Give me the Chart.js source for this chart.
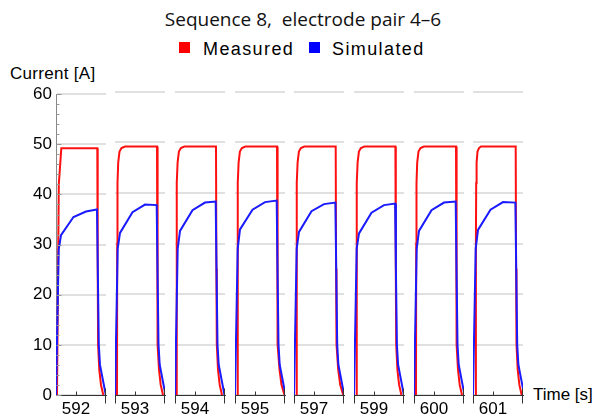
<!DOCTYPE html>
<html>
<head>
<meta charset="utf-8">
<script src="https://cdn.jsdelivr.net/npm/chart.js@4.4.1/dist/chart.umd.min.js"></script>
<style>
  body { margin: 0; background: #fff; }
  #wrap { position: relative; width: 597px; height: 420px; overflow: hidden; color: #000;
          font-family: 'Liberation Sans', Arial, sans-serif; }
  .txt { position: absolute; white-space: pre; }
  .title { left: 0; width: 606px; top: 10px; text-align: center; font: 19px/19px 'Open Sans', sans-serif; color: #111; }
  .leg { top: 40px; font-size: 18px; line-height: 18px; letter-spacing: 1.4px; }
  .sw { position: absolute; top: 42px; width: 11px; height: 11px; }
  .axis-title { font-size: 17px; line-height: 17px; letter-spacing: 0.3px; }
  .panel { position: absolute; }
</style>
</head>
<body>
<div id="wrap">
  <div class="txt title">Sequence 8,  electrode pair 4–6</div>
  <div class="sw" style="left:179px; background:#ff0000"></div>
  <div class="txt leg" style="left:203px">Measured</div>
  <div class="sw" style="left:309px; background:#0000ff"></div>
  <div class="txt leg" style="left:332px">Simulated</div>
  <div class="txt axis-title" style="left:10px; top:65px">Current [A]</div>
  <div class="txt axis-title" style="left:533px; top:386px; letter-spacing:0">Time [s]</div>
</div>
<script>
// one panel per time window, labelled by its tick
const panelTicks = [592, 593, 594, 595, 597, 599, 600, 601];
const windowStart = [591.6, 592.6, 593.6, 594.6, 596.6, 598.6, 599.6, 600.6];
const windowEnd = [592.6, 593.6, 594.6, 595.6, 597.6, 599.6, 600.6, 601.6];
const yTicks = [0, 10, 20, 30, 40, 50, 60];

// measured current (red)
const measuredTime = [
  [591.62, 591.656, 591.706, 592.426, 592.434, 592.442, 592.466, 592.5, 592.546],
  [592.64, 592.644, 592.65, 592.664, 592.69, 592.73, 592.8, 593.44, 593.448, 593.456, 593.48, 593.514, 593.56],
  [593.628, 593.632, 593.638, 593.652, 593.678, 593.718, 593.788, 594.42, 594.428, 594.436, 594.46, 594.494, 594.54],
  [594.648, 594.652, 594.658, 594.672, 594.698, 594.738, 594.808, 595.44, 595.448, 595.456, 595.49, 595.53, 595.59],
  [596.648, 596.652, 596.658, 596.672, 596.698, 596.738, 596.808, 597.434, 597.442, 597.45, 597.484, 597.524, 597.584],
  [598.648, 598.652, 598.658, 598.672, 598.698, 598.738, 598.808, 599.428, 599.436, 599.444, 599.468, 599.502, 599.548],
  [599.64, 599.644, 599.65, 599.664, 599.69, 599.73, 599.8, 600.44, 600.448, 600.456, 600.48, 600.514, 600.56],
  [600.654, 600.658, 600.664, 600.672, 600.69, 600.72, 600.76, 601.454, 601.462, 601.47, 601.494, 601.528, 601.574]
];
const measuredCurrent = [
  [0, 42, 49.2, 49.2, 25, 10, 5, 2, 0],
  [0, 30, 42, 46, 48.2, 48.9, 49.2, 49.2, 25, 10, 5, 2, 0],
  [0, 30, 42, 46, 48.2, 48.9, 49.2, 49.2, 25, 10, 5, 2, 0],
  [0, 30, 42, 46, 48.2, 48.9, 49.2, 49.2, 25, 10, 5, 2, 0],
  [0, 30, 42, 46, 48.2, 48.9, 49.2, 49.2, 25, 10, 5, 2, 0],
  [0, 30, 42, 46, 48.2, 48.9, 49.2, 49.2, 25, 10, 5, 2, 0],
  [0, 30, 42, 46, 48.2, 48.9, 49.2, 49.2, 25, 10, 5, 2, 0],
  [0, 30, 42, 46, 48.2, 48.9, 49.2, 49.2, 25, 10, 5, 2, 0]
];

// simulated current (blue)
const simulatedTime = [
  [591.6, 591.654, 591.7, 591.95, 592.2, 592.42, 592.436, 592.456, 592.48, 592.596],
  [592.6, 592.654, 592.7, 592.95, 593.2, 593.434, 593.45, 593.47, 593.494, 593.61],
  [593.6, 593.654, 593.7, 593.95, 594.2, 594.414, 594.43, 594.45, 594.474, 594.59],
  [594.6, 594.654, 594.7, 594.95, 595.2, 595.434, 595.45, 595.47, 595.494, 595.61],
  [596.6, 596.654, 596.7, 596.95, 597.2, 597.428, 597.444, 597.464, 597.488, 597.604],
  [598.6, 598.654, 598.7, 598.95, 599.2, 599.422, 599.438, 599.458, 599.482, 599.598],
  [599.6, 599.654, 599.7, 599.95, 600.2, 600.434, 600.45, 600.47, 600.494, 600.61],
  [600.6, 600.654, 600.7, 600.95, 601.2, 601.448, 601.464, 601.484, 601.508, 601.624]
];
const simulatedCurrent = [
  [0, 29, 31.9, 35.5, 36.6, 37.0, 25, 10, 6, 0],
  [0, 29, 32.1, 36.2, 37.7, 37.6, 25, 10, 6, 0],
  [0, 29, 32.5, 36.6, 38.1, 38.3, 25, 10, 6, 0],
  [0, 29, 32.8, 36.7, 38.2, 38.5, 25, 10, 6, 0],
  [0, 29, 32.3, 36.4, 37.8, 38.1, 25, 10, 6, 0],
  [0, 29, 32.0, 36.1, 37.6, 37.9, 25, 10, 6, 0],
  [0, 29, 32.5, 36.6, 38.1, 38.3, 25, 10, 6, 0],
  [0, 29, 32.7, 36.7, 38.2, 38.1, 25, 10, 6, 0]
];

// layout
const panelLeft = [56, 115, 175, 235, 294, 354, 414, 473];
const PANEL_W = 50, AXIS_W = 56, PAD = 5;
const TOP = 80, PLOT_TOP = 12, PLOT_H = 303, XAXIS_H = 25;
const tickFont = { family: "'Liberation Sans', Arial, sans-serif", size: 17 };

// axis break marks, inward ticks
const axisMarks = {
  id: 'axisMarks',
  afterDraw(chart, args, opts) {
    const { ctx, scales: { x, y } } = chart;
    const bottom = Math.round(y.bottom) + 0.5;
    ctx.save();
    ctx.lineWidth = 1;
    ctx.strokeStyle = '#333';
    ctx.beginPath();
    const px = Math.round(x.getPixelForValue(opts.tick)) + 0.5;
    ctx.moveTo(px, bottom);
    ctx.lineTo(px, bottom - 4);
    if (!opts.first) {
      ctx.moveTo(Math.round(x.left) + 0.5, bottom);
      ctx.lineTo(Math.round(x.left) + 0.5, bottom + 8);
    }
    ctx.moveTo(Math.round(x.right) - 0.5, bottom - 7);
    ctx.lineTo(Math.round(x.right) - 0.5, bottom + 8);
    ctx.stroke();
    if (opts.first) {
      ctx.strokeStyle = '#999';
      ctx.beginPath();
      const ax = Math.round(y.right) + 0.5;
      for (let v = y.min; v <= y.max; v += 2) {
        const py = Math.round(y.getPixelForValue(v)) + 0.5;
        ctx.moveTo(ax, py);
        ctx.lineTo(ax + (v % 10 === 0 ? 5 : 3), py);
      }
      ctx.stroke();
    }
    ctx.restore();
  }
};

const wrap = document.getElementById('wrap');

panelTicks.forEach((t, i) => {
  const first = i === 0;
  const div = document.createElement('div');
  div.className = 'panel';
  div.style.left = (first ? 0 : panelLeft[i] - PAD) + 'px';
  div.style.top = TOP + 'px';
  div.style.width = (first ? AXIS_W + PANEL_W + PAD : PANEL_W + 2 * PAD) + 'px';
  div.style.height = (PLOT_TOP + PLOT_H + XAXIS_H) + 'px';
  const canvas = document.createElement('canvas');
  div.appendChild(canvas);
  wrap.appendChild(div);

  new Chart(canvas, {
    type: 'line',
    data: {
      datasets: [
        {
          label: 'Simulated',
          data: simulatedTime[i].map((x, k) => ({ x, y: simulatedCurrent[i][k] })),
          borderColor: '#1a1aff',
          borderWidth: 2,
          pointRadius: 0,
          order: 1
        },
        {
          label: 'Measured',
          data: measuredTime[i].map((x, k) => ({ x, y: measuredCurrent[i][k] })),
          borderColor: '#ff1010',
          borderWidth: 2,
          pointRadius: 0,
          order: 2
        }
      ]
    },
    options: {
      responsive: true,
      maintainAspectRatio: false,
      animation: false,
      layout: { padding: { left: first ? 0 : PAD, right: PAD, top: PLOT_TOP, bottom: 0 } },
      plugins: {
        legend: { display: false },
        tooltip: { enabled: false },
        axisMarks: { tick: t, first }
      },
      scales: {
        x: {
          type: 'linear',
          min: windowStart[i],
          max: windowEnd[i],
          afterBuildTicks: (s) => { s.ticks = [{ value: t }]; },
          afterFit: (s) => { s.height = XAXIS_H; },
          grid: { display: false, drawTicks: false },
          border: { display: true, color: '#333', width: 1 },
          ticks: { font: tickFont, color: '#000', padding: 4, maxRotation: 0, callback: (v) => String(v) }
        },
        y: {
          min: 0,
          max: 60,
          afterBuildTicks: (s) => { s.ticks = yTicks.map((v) => ({ value: v })); },
          afterFit: (s) => { s.width = first ? AXIS_W : 0; },
          grid: { color: '#e0e0e0', lineWidth: 2, drawTicks: false },
          border: { display: first, color: '#888', width: 1 },
          ticks: { display: first, font: tickFont, color: '#000', padding: 4 }
        }
      }
    },
    plugins: [axisMarks]
  });
});
</script>
</body>
</html>
